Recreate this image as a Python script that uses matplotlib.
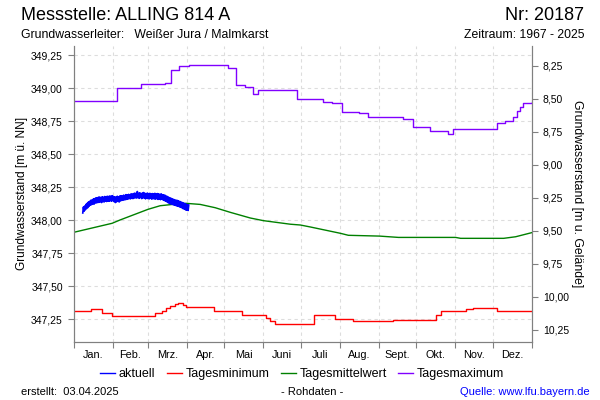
import matplotlib
matplotlib.use("Agg")
import matplotlib.pyplot as plt
from matplotlib.ticker import FixedLocator, FuncFormatter, NullFormatter
from matplotlib.lines import Line2D

plt.rcParams["font.family"] = ["Liberation Sans", "DejaVu Sans"]

########################################################################################################################
# DATA (day of year -> water level in m ue. NN)
########################################################################################################################
GROUND_LEVEL = 357.42

month_names = ["Jan.", "Feb.", "Mrz.", "Apr.", "Mai", "Juni", "Juli", "Aug.", "Sept.", "Okt.", "Nov.", "Dez."]
month_starts = [0, 31, 59, 90, 120, 151, 181, 212, 243, 273, 304, 334, 365]

left_ticks = [347.25, 347.50, 347.75, 348.00, 348.25, 348.50, 348.75, 349.00, 349.25]
right_ticks = [8.25, 8.50, 8.75, 9.00, 9.25, 9.50, 9.75, 10.00, 10.25]

max_days = [0, 34.3, 53.5, 72.7, 77.5, 83.9, 91.8, 123, 129.4, 136.6, 143, 147, 178.1, 198.9, 206, 214,
            227.6, 234.8, 262, 270, 283.5, 297.9, 301.9, 331.5, 337, 343.4, 349.8, 353, 355.4, 357.8, 361.8, 365]
max_vals = [348.905, 349.005, 349.03, 349.043, 349.14, 349.167, 349.175, 349.15, 349.028, 349.006, 348.953,
            348.983, 348.915, 348.897, 348.885, 348.819, 348.81, 348.78, 348.764, 348.703, 348.675, 348.657,
            348.688, 348.695, 348.736, 348.75, 348.78, 348.826, 348.86, 348.885, 348.89, 348.897]

min_days = [0, 13.6, 22, 30.7, 64.7, 70.3, 73.5, 76.7, 80.7, 83, 87, 89.5, 111.8, 134, 153.3, 156.5, 160,
            191.7, 208.5, 222.8, 254, 289, 293, 313, 318, 337, 365]
min_vals = [347.311, 347.326, 347.296, 347.276, 347.296, 347.315, 347.334, 347.352, 347.367, 347.372, 347.36,
            347.342, 347.311, 347.283, 347.262, 347.24, 347.213, 347.283, 347.25, 347.236, 347.245, 347.28,
            347.313, 347.326, 347.339, 347.313, 347.313]

mean_days = [0, 30.4, 36.7, 59.1, 68.7, 80.7, 89.5, 100.6, 112.6, 124.6, 140.6, 151, 172.5, 180.5, 188.5,
             212.5, 218.8, 243.6, 258.8, 304.3, 308.3, 342.6, 352.2, 365]
mean_vals = [347.909, 347.977, 348.002, 348.083, 348.11, 348.122, 348.128, 348.12, 348.095, 348.06, 348.017,
             347.997, 347.97, 347.964, 347.949, 347.901, 347.886, 347.88, 347.87, 347.87, 347.863, 347.863,
             347.875, 347.906]

# raw readings, two per day (7 Jan - 2 Apr)
current_days = [d / 2 for d in range(14, 184)]
current_vals = [348.055, 348.100, 348.068, 348.108, 348.078, 348.120, 348.088, 348.128, 348.096, 348.138,
                348.106, 348.144, 348.114, 348.152, 348.118, 348.154, 348.124, 348.162, 348.122, 348.164,
                348.130, 348.170, 348.132, 348.170, 348.134, 348.175, 348.136, 348.176, 348.140, 348.172,
                348.134, 348.178, 348.142, 348.174, 348.138, 348.180, 348.144, 348.176, 348.142, 348.182,
                348.146, 348.180, 348.144, 348.184, 348.148, 348.182, 348.144, 348.186, 348.150, 348.180,
                348.142, 348.178, 348.134, 348.174, 348.140, 348.182, 348.144, 348.176, 348.138, 348.184,
                348.146, 348.186, 348.150, 348.182, 348.152, 348.190, 348.154, 348.188, 348.156, 348.194,
                348.158, 348.192, 348.160, 348.196, 348.164, 348.194, 348.162, 348.200, 348.166, 348.198,
                348.164, 348.202, 348.168, 348.206, 348.170, 348.202, 348.168, 348.218, 348.172, 348.204,
                348.166, 348.208, 348.172, 348.202, 348.164, 348.206, 348.170, 348.210, 348.168, 348.204,
                348.162, 348.202, 348.166, 348.206, 348.164, 348.200, 348.162, 348.204, 348.166, 348.198,
                348.160, 348.202, 348.164, 348.200, 348.162, 348.204, 348.160, 348.198, 348.164, 348.202,
                348.158, 348.200, 348.162, 348.196, 348.156, 348.200, 348.160, 348.194, 348.154, 348.192,
                348.150, 348.190, 348.144, 348.184, 348.140, 348.180, 348.134, 348.174, 348.128, 348.170,
                348.124, 348.166, 348.122, 348.162, 348.118, 348.158, 348.114, 348.154, 348.112, 348.152,
                348.108, 348.150, 348.106, 348.146, 348.102, 348.142, 348.098, 348.138, 348.094, 348.134,
                348.088, 348.130, 348.084, 348.126, 348.078, 348.122, 348.076, 348.118, 348.074, 348.114]

########################################################################################################################


def comma(v, _pos):
    return f"{v:.2f}".replace(".", ",")


def plot_chart(output_name="out.png"):
    """
    Annual hydrograph of a groundwater gauge: current values plus daily min / mean / max.
    """
    fig = plt.figure(figsize=(6, 4), dpi=100)
    ax = fig.add_axes([74 / 600, 1 - 341.7 / 400, (531.7 - 74) / 600, (341.7 - 46) / 400])

    ax.plot(min_days, min_vals, color="#ff0000", lw=1.0, drawstyle="steps-post")
    ax.plot(mean_days, mean_vals, color="#008000", lw=1.0)
    ax.plot(max_days, max_vals, color="#8000ff", lw=1.0, drawstyle="steps-post")
    ax.plot(current_days, current_vals, color="#0000ff", lw=1.2)

    ax.set_xlim(0, 365)
    ax.set_ylim(347.08, 349.32)

    grey = "#808080"
    for side in ["left", "right", "bottom"]:
        ax.spines[side].set_color(grey)
    ax.spines["top"].set_visible(False)

    ax.xaxis.set_major_locator(FixedLocator(month_starts))
    ax.xaxis.set_major_formatter(NullFormatter())
    mids = [(a + b) / 2 for a, b in zip(month_starts[:-1], month_starts[1:])]
    ax.set_xticks(mids, month_names, minor=True)
    ax.tick_params(axis="x", which="major", length=4, color=grey)
    ax.tick_params(axis="x", which="minor", length=0, labelsize=7.8, pad=6)

    ax.set_yticks(left_ticks)
    ax.yaxis.set_major_formatter(FuncFormatter(comma))
    ax.tick_params(axis="y", length=4, color=grey, labelsize=7.5, pad=4)
    ax.grid(True, which="major", color="#dddddd", linestyle=(0, (3, 3)), lw=0.8)
    ax.set_ylabel("Grundwasserstand [m ü. NN]", fontsize=8.6, labelpad=2)

    ax2 = ax.twinx()
    ax2.set_ylim(GROUND_LEVEL - 347.08, GROUND_LEVEL - 349.32)
    ax2.set_yticks(right_ticks)
    ax2.yaxis.set_major_formatter(FuncFormatter(comma))
    ax2.tick_params(axis="y", length=4, color=grey, labelsize=7.5, pad=4)
    for side in ["left", "right", "bottom"]:
        ax2.spines[side].set_color(grey)
    ax2.spines["top"].set_visible(False)
    ax2.set_ylabel("Grundwasserstand [m u. Gelände]", fontsize=8.8, rotation=-90, labelpad=10)

    fig.text(21 / 600, 1 - 16 / 400, "Messstelle: ALLING 814 A", fontsize=13, va="center")
    fig.text(584 / 600, 1 - 16 / 400, "Nr: 20187", fontsize=13, va="center", ha="right")
    fig.text(21 / 600, 1 - 34.5 / 400, "Grundwasserleiter:   Weißer Jura / Malmkarst", fontsize=8.8,
             va="center")
    fig.text(584 / 600, 1 - 34.5 / 400, "Zeitraum: 1967 - 2025", fontsize=8.8, va="center", ha="right")

    handles = [Line2D([], [], color=c, lw=1.0) for c in ["#0000ff", "#ff0000", "#008000", "#8000ff"]]
    fig.legend(handles, ["aktuell", "Tagesminimum", "Tagesmittelwert", "Tagesmaximum"],
               loc="center", bbox_to_anchor=(302 / 600, 1 - 374 / 400), ncol=4, frameon=False,
               fontsize=9, handlelength=1.2, handletextpad=0.3, columnspacing=0.9)

    fig.text(21 / 600, 1 - 392 / 400, "erstellt:  03.04.2025", fontsize=8, va="center")
    fig.text(312 / 600, 1 - 392 / 400, "- Rohdaten -", fontsize=8, va="center", ha="center")
    fig.text(590 / 600, 1 - 392 / 400, "Quelle: www.lfu.bayern.de", fontsize=8, va="center", ha="right",
             color="#0000ff")

    fig.savefig(output_name, dpi=100)


def main():
    plot_chart("out.png")


if __name__ == "__main__":
    main()
